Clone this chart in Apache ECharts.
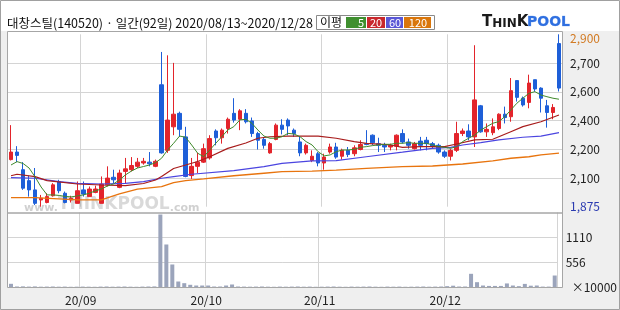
<!DOCTYPE html>
<html><head><meta charset="utf-8">
<script src="https://cdn.jsdelivr.net/npm/echarts/dist/echarts.min.js"></script>
<style>html,body{margin:0;padding:0;background:#fff}#c{width:620px;height:310px}</style>
</head><body><div id="c"></div>
<script>
const titleText = '대창스틸(140520) · 일간(92일) 2020/08/13~2020/12/28';
const dates = [
'08/13','08/14','08/18','08/19','08/20','08/21','08/24','08/25','08/26','08/27','08/28','08/31',
'09/01','09/02','09/03','09/04','09/07','09/08','09/09','09/10','09/11','09/14','09/15','09/16','09/17','09/18','09/21','09/22','09/23','09/24','09/25','09/28','09/29',
'10/05','10/06','10/07','10/08','10/12','10/13','10/14','10/15','10/16','10/19','10/20','10/21','10/22','10/23','10/26','10/27','10/28','10/29','10/30',
'11/02','11/03','11/04','11/05','11/06','11/09','11/10','11/11','11/12','11/13','11/16','11/17','11/18','11/19','11/20','11/23','11/24','11/25','11/26','11/27','11/30',
'12/01','12/02','12/03','12/04','12/07','12/08','12/09','12/10','12/11','12/14','12/15','12/16','12/17','12/18','12/21','12/22','12/23','12/24','12/28'];
const monthTickLabels = {'09/01':'20/09','10/05':'20/10','11/02':'20/11','12/01':'20/12'};
const priceTickLabels = ['1,875','2,100','2,200','2,400','2,600','2,700','2,900'];
const volTickLabels = ['×10000','556','1110',''];

const openP = [2155,2200,2095,2030,1975,1915,1900,1940,2025,1955,1915,1895,1975,1935,1960,1895,2005,2050,1990,2085,2095,2115,2135,2140,2115,
2600,2210,2350,2430,2290,2060,2115,2140,2165,2325,2285,2340,2430,2395,2430,2385,2310,2275,2195,2275,2360,2390,2330,2260,2195,2150,2190,2135,
2200,2230,2175,2210,2190,2215,2250,2300,2250,2240,2230,2235,2310,2260,2220,2265,2270,2250,2240,2200,2175,2210,2310,2325,2290,2475,2320,2315,
2340,2425,2410,2625,2520,2495,2630,2580,2475,2435,2845];
const closeP = [2200,2180,1985,1975,1895,1925,1935,2005,1970,1900,1925,1970,1950,1980,1980,2010,2045,2035,2075,2100,2120,2140,2145,2130,2145,
2195,2390,2425,2335,2055,2115,2140,2220,2280,2285,2330,2395,2390,2445,2380,2310,2270,2240,2250,2360,2335,2355,2310,2195,2240,2175,2135,2170,
2230,2170,2210,2185,2225,2245,2245,2255,2240,2230,2240,2300,2260,2240,2250,2240,2250,2235,2200,2175,2210,2310,2325,2290,2510,2320,2335,2350,
2425,2405,2565,2525,2480,2610,2575,2520,2435,2465,2580];
const lowP = [2150,2140,1975,1935,1885,1875,1895,1935,1955,1895,1900,1895,1935,1935,1955,1895,1995,2015,1985,2015,2085,2105,2125,2115,2110,
2190,2195,2300,2290,2050,2040,2075,2135,2155,2240,2250,2310,2375,2330,2370,2290,2215,2220,2190,2270,2305,2300,2290,2175,2185,2140,2115,2095,
2190,2160,2155,2170,2175,2210,2240,2240,2200,2200,2210,2210,2250,2220,2215,2210,2210,2220,2190,2165,2150,2200,2295,2270,2230,2315,2290,2300,
2330,2370,2380,2500,2470,2460,2560,2435,2345,2395,2560];
const highP = [2360,2235,2140,2060,2105,1945,1955,2015,2035,1965,1940,2025,2025,1995,2000,2055,2115,2095,2095,2165,2170,2165,2165,2200,2155,
2795,2775,2730,2440,2350,2165,2195,2250,2300,2335,2340,2405,2520,2455,2455,2405,2320,2290,2260,2370,2395,2400,2340,2290,2250,2210,2200,2190,
2250,2255,2220,2230,2240,2270,2330,2305,2285,2255,2250,2305,2335,2280,2260,2290,2290,2260,2250,2210,2220,2380,2340,2365,2835,2480,2370,2400,
2430,2470,2640,2625,2530,2660,2630,2585,2510,2485,2900];
const volume = [82,22,25,20,24,18,20,22,18,20,16,18,20,18,16,20,22,18,20,22,18,16,20,22,24,
1620,955,511,133,96,60,44,44,44,22,22,44,67,22,20,18,20,22,18,16,20,18,20,22,18,20,16,18,
20,22,18,16,20,18,20,22,18,16,20,18,20,16,18,20,22,18,20,22,30,40,22,22,304,118,44,35,
35,35,90,44,30,80,40,44,20,20,266];

const ma5 = [2123,2143,2132,2105,2052,1992,1945,1945,1942,1936,1933,1939,1945,1955,1969,1980,1998,2010,2034,2064,2087,2105,2114,2123,2137,
2163,2212,2252,2295,2288,2242,2193,2172,2212,2252,2291,2331,2351,2391,2395,2371,2331,2295,2282,2282,2291,2311,2307,2291,2262,2242,2202,2177,
2183,2202,2212,2212,2216,2228,2232,2238,2242,2246,2246,2252,2252,2256,2252,2252,2252,2242,2232,2228,2222,2232,2262,2282,2301,2331,2351,2371,
2381,2410,2450,2490,2520,2549,2559,2539,2529,2520,2514];
const ma20 = [[0,2059],[1,2068],[4,2054],[6,2030],[11,2010],[15,2004],[19,2000],[22,2013],[24,2034],[25,2055],[27,2102],[29,2123],[31,2144],
[33,2172],[36,2222],[39,2254],[41,2282],[43,2291],[46,2295],[51,2295],[54,2282],[57,2262],[59,2252],[63,2242],[65,2228],[68,2232],[72,2232],
[74,2248],[77,2272],[80,2276],[83,2321],[85,2351],[88,2380],[91,2420]];
const ma60 = [[0,2048],[4,2044],[8,2024],[11,2014],[15,2010],[19,2014],[22,2024],[25,2044],[27,2054],[30,2068],[37,2089],[42,2113],[45,2133],
[50,2147],[54,2149],[59,2172],[65,2199],[70,2222],[73,2228],[75,2242],[78,2256],[81,2272],[85,2288],[88,2295],[91,2315]];
const ma120 = [[0,1929],[4,1929],[11,1915],[15,1915],[18,1951],[21,1979],[25,1994],[27,2018],[29,2030],[32,2040],[37,2059],[42,2074],[45,2083],
[50,2087],[54,2093],[59,2103],[65,2113],[70,2117],[75,2129],[80,2147],[83,2163],[86,2172],[88,2183],[91,2194]];

const FONT = '"Noto Sans CJK KR", "Noto Sans", sans-serif';
const candleData = dates.map((d, i) => [openP[i], closeP[i], lowP[i], highP[i]]);
const isMonthStart = (i) => monthTickLabels[dates[i]] !== undefined;
const gridC = '#d4d4d4';

const chart = echarts.init(document.getElementById('c'), null, {renderer: 'canvas'});
chart.setOption({
  animation: false,
  backgroundColor: '#efefef',
  grid: [
    {left: 8, top: 34.3, width: 554, height: 172.4},
    {left: 8, top: 212.5, width: 554, height: 75}
  ],
  xAxis: [
    {type: 'category', gridIndex: 0, data: dates, boundaryGap: true,
     axisLine: {show: false}, axisTick: {show: false}, axisLabel: {show: false},
     splitLine: {show: true, interval: (i) => isMonthStart(i), lineStyle: {color: gridC, width: 1}}},
    {type: 'category', gridIndex: 1, data: dates, boundaryGap: true,
     axisLine: {show: false}, axisTick: {show: false},
     axisLabel: {show: true, interval: (i) => isMonthStart(i), formatter: (v) => monthTickLabels[v] || '',
       color: '#222', fontSize: 12, fontFamily: FONT, margin: 7, padding: [0, 4, 0, 0]},
     splitLine: {show: true, interval: (i) => isMonthStart(i), lineStyle: {color: gridC, width: 1}}}
  ],
  yAxis: [
    {type: 'value', gridIndex: 0, min: 1875, max: 2900, show: false, splitLine: {show: false}},
    {type: 'value', gridIndex: 0, min: 0, max: 6, interval: 1, position: 'right',
     axisLine: {show: false}, axisTick: {show: false},
     splitLine: {show: true, lineStyle: {color: ['transparent', gridC, gridC, gridC, gridC, gridC, 'transparent'], width: 1}},
     axisLabel: {show: true, margin: 8, align: 'left', color: '#222', fontSize: 12, fontFamily: FONT,
       formatter: (v) => {
         const i = Math.round(v);
         if (i === 6) return '{hi|' + priceTickLabels[i] + '}';
         if (i === 0) return '{lo|' + priceTickLabels[i] + '}';
         return priceTickLabels[i];
       },
       rich: {hi: {color: '#d27a22', fontSize: 12, fontFamily: FONT, padding: [8, 0, 0, 0]},
              lo: {color: '#2a3ab0', fontSize: 12, fontFamily: FONT}}}},
    {type: 'value', gridIndex: 1, min: 0, max: 1665, interval: 555, position: 'right',
     axisLine: {show: false}, axisTick: {show: false},
     splitLine: {show: true, lineStyle: {color: ['transparent', gridC, gridC, 'transparent'], width: 1}},
     axisLabel: {show: true, margin: 8, align: 'left', color: '#222', fontSize: 12, fontFamily: FONT,
       formatter: (v) => {
         const i = Math.round(v / 555);
         if (i === 0) return '{u|' + volTickLabels[0] + '}';
         return volTickLabels[i];
       },
       rich: {u: {fontSize: 12, fontFamily: FONT, color: '#222', padding: [0, 0, 0, 6]}}}}
  ],
  series: [
    {type: 'candlestick', xAxisIndex: 0, yAxisIndex: 0, data: candleData, barWidth: 4, clip: false,
     itemStyle: {color: '#e3242b', color0: '#1e5fd8', borderColor: '#e3242b', borderColor0: '#1e5fd8', borderWidth: 1}},
    {type: 'line', xAxisIndex: 0, yAxisIndex: 0, data: ma120, showSymbol: false, z: 3,
     lineStyle: {color: '#e8740e', width: 1.3}},
    {type: 'line', xAxisIndex: 0, yAxisIndex: 0, data: ma60, showSymbol: false, z: 3,
     lineStyle: {color: '#4b45e0', width: 1.2}},
    {type: 'line', xAxisIndex: 0, yAxisIndex: 0, data: ma20, showSymbol: false, z: 3,
     lineStyle: {color: '#a81c1c', width: 1.2}},
    {type: 'line', xAxisIndex: 0, yAxisIndex: 0, data: ma5, showSymbol: false, z: 3,
     lineStyle: {color: '#3f8a2c', width: 1}},
    {type: 'bar', xAxisIndex: 1, yAxisIndex: 2, data: volume, barWidth: 4,
     itemStyle: {color: '#9ba4bb'}}
  ],
  graphic: [
    {type: 'rect', z: -100, silent: true, shape: {x: 0, y: 0, width: 620, height: 31}, style: {fill: '#ffffff'}},
    {type: 'rect', z: -100, silent: true, shape: {x: 7.5, y: 31.5, width: 555, height: 256}, style: {fill: '#ffffff'}},
    {type: 'rect', z: 100, silent: true, shape: {x: 7.5, y: 31.5, width: 555, height: 181.5}, style: {fill: 'none', stroke: '#a6a6a6', lineWidth: 1}},
    {type: 'rect', z: 100, silent: true, shape: {x: 7.5, y: 213, width: 555, height: 74.5}, style: {fill: 'none', stroke: '#a6a6a6', lineWidth: 1}},
    {type: 'rect', z: 100, silent: true, shape: {x: 0.5, y: 0.5, width: 619, height: 309}, style: {fill: 'none', stroke: '#a0a0a0', lineWidth: 1}},
    {type: 'text', z: 100, x: 7, y: 23, style: {text: titleText, fill: '#111', font: '12.5px ' + FONT, textVerticalAlign: 'middle'}},
    {type: 'rect', z: 100, shape: {x: 316.5, y: 15.5, width: 118, height: 14}, style: {fill: '#fff', stroke: '#8a8a8a', lineWidth: 1}},
    {type: 'text', z: 101, x: 320, y: 22.5, style: {text: '이평', fill: '#111', font: '12px ' + FONT, textVerticalAlign: 'middle'}},
    {type: 'rect', z: 101, shape: {x: 346, y: 17, width: 20, height: 11}, style: {fill: '#3f8f2f'}},
    {type: 'rect', z: 101, shape: {x: 367, y: 17, width: 18, height: 11}, style: {fill: '#c8282d'}},
    {type: 'rect', z: 101, shape: {x: 386, y: 17, width: 17, height: 11}, style: {fill: '#5a57d6'}},
    {type: 'rect', z: 101, shape: {x: 404, y: 17, width: 27, height: 11}, style: {fill: '#d9760c'}},
    {type: 'text', z: 102, x: 364, y: 22.5, style: {text: '5', fill: '#fff', font: '11px ' + FONT, textAlign: 'right', textVerticalAlign: 'middle'}},
    {type: 'text', z: 102, x: 376, y: 22.5, style: {text: '20', fill: '#fff', font: '11px ' + FONT, textAlign: 'center', textVerticalAlign: 'middle'}},
    {type: 'text', z: 102, x: 395, y: 22.5, style: {text: '60', fill: '#fff', font: '11px ' + FONT, textAlign: 'center', textVerticalAlign: 'middle'}},
    {type: 'text', z: 102, x: 418, y: 22.5, style: {text: '120', fill: '#fff', font: '11px ' + FONT, textAlign: 'center', textVerticalAlign: 'middle'}},
    {type: 'text', z: 100, x: 482, y: 22, style: {text: '{t|T}{s|HIN}{t|K}', fill: '#1a1a1a', textVerticalAlign: 'middle',
      rich: {t: {font: 'bold 15px "DejaVu Sans", sans-serif', fill: '#1a1a1a', verticalAlign: 'bottom'}, s: {font: 'bold 12px "DejaVu Sans", sans-serif', fill: '#1a1a1a', verticalAlign: 'bottom'}}}},
    {type: 'text', z: 100, x: 527, y: 22, style: {text: 'POOL', fill: '#2f6fe0', stroke: '#9fc0f4', lineWidth: 0.5, font: 'bold 14px "DejaVu Sans", sans-serif', textVerticalAlign: 'middle'}},
    {type: 'text', z: 1, x: 24, y: 205, silent: true, style: {text: '{a|www.}{b|THINKPOOL}{a|.com}', textVerticalAlign: 'middle',
      rich: {a: {font: 'bold 11px "DejaVu Sans", sans-serif', fill: 'rgba(150,150,150,0.45)', verticalAlign: 'bottom'},
             b: {font: 'bold 17px "DejaVu Sans", sans-serif', fill: 'rgba(160,160,160,0.4)', verticalAlign: 'bottom'}}}}
  ]
});
</script>
</body></html>
